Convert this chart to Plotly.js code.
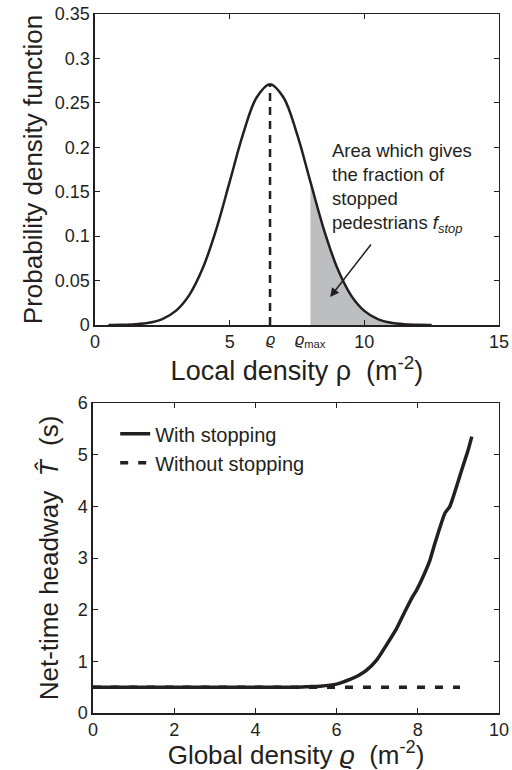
<!DOCTYPE html>
<html>
<head>
<meta charset="utf-8">
<script src="https://cdn.plot.ly/plotly-3.0.1.min.js"></script>
<style>html,body{margin:0;padding:0;background:#fff}#chart{width:512px;height:770px}</style>
</head>
<body>
<div id="chart"></div>
<script>
// Top panel: probability density of local density
const localDensity = [0.5,1.0,1.5,2.0,2.5,3.0,3.5,4.0,4.5,5.0,5.5,6.0,6.5,7.0,7.5,8.0,8.5,9.0,9.5,10.0,10.5,11.0,11.5,12.0,12.5];
const pdfValues = [0.0001,0.0002,0.0008,0.0025,0.0067,0.0159,0.0337,0.0638,0.1074,0.161,0.215,0.256,0.271,0.256,0.215,0.161,0.1074,0.0638,0.0337,0.0159,0.0067,0.0025,0.0008,0.0002,0.0001];
const meanDensity = 6.5;
const maxDensity = 8;
const peakValue = 0.271;
const topXTicks = [0,5,10,15];
const topYTicks = [0,0.05,0.1,0.15,0.2,0.25,0.3,0.35];
const topYTickText = ['0','0.05','0.1','0.15','0.2','0.25','0.3','0.35'];

// Bottom panel: net-time headway
const globalDensity = [0,1,2,3,4,5,5.3,5.6,6.0,6.33,6.55,6.74,6.99,7.23,7.48,7.68,7.85,7.97,8.09,8.30,8.42,8.67,8.79,9.08,9.24,9.33];
const headwayWithStop = [0.5,0.5,0.5,0.5,0.5,0.5,0.51,0.52,0.56,0.65,0.73,0.83,1.03,1.32,1.64,1.96,2.22,2.38,2.57,2.96,3.28,3.87,4.0,4.70,5.09,5.35];
const globalDensityNoStop = [0,9.04];
const headwayNoStop = [0.5,0.5];
const botXTicks = [0,2,4,6,8,10];
const botYTicks = [0,1,2,3,4,5,6];

const ink = '#231f20';
const font = 'Liberation Sans, Arial, sans-serif';

const shadeX = localDensity.filter(x => x >= maxDensity);
const shadeY = pdfValues.filter((v, i) => localDensity[i] >= maxDensity);

const traces = [
  {x: shadeX, y: shadeY, xaxis:'x', yaxis:'y', type:'scatter', mode:'lines',
   line:{width:0, shape:'spline'}, fill:'tozeroy', fillcolor:'#bcbec0', showlegend:false, hoverinfo:'skip'},
  {x: [meanDensity, meanDensity], y: [0, peakValue], xaxis:'x', yaxis:'y', type:'scatter', mode:'lines',
   line:{color:ink, width:2.5, dash:'8px,6px'}, showlegend:false},
  {x: localDensity, y: pdfValues, xaxis:'x', yaxis:'y', type:'scatter', mode:'lines',
   line:{color:ink, width:2.5, shape:'spline'}, showlegend:false},
  {x: globalDensity, y: headwayWithStop, xaxis:'x2', yaxis:'y2', type:'scatter', mode:'lines',
   name:'With stopping', line:{color:ink, width:3.5, shape:'spline', smoothing:0.5}},
  {x: globalDensityNoStop, y: headwayNoStop, xaxis:'x2', yaxis:'y2', type:'scatter', mode:'lines',
   name:'Without stopping', line:{color:ink, width:3.5, dash:'8px,10px'}}
];

const axisCommon = {
  showline:true, linecolor:ink, linewidth:1.5, mirror:'ticks', ticks:'inside', ticklen:5,
  tickcolor:ink, tickwidth:1, showgrid:false, zeroline:false,
  tickfont:{family:font, size:18, color:ink}
};

const layout = {
  width:512, height:770,
  margin:{l:0, r:0, t:0, b:0},
  paper_bgcolor:'#fff', plot_bgcolor:'#fff',
  font:{family:font, color:ink},
  showlegend:true,
  legend:{x:0.225, y:0.462, xanchor:'left', yanchor:'top', bgcolor:'rgba(0,0,0,0)',
          font:{family:font, size:20, color:ink}, tracegroupgap:0},
  xaxis: Object.assign({}, axisCommon, {domain:[0.1855,0.9746], range:[0,15], tickvals:topXTicks, anchor:'y',
    title:{text:'Local density ρ  (m<sup>-2</sup>)', font:{family:font, size:27, color:ink}, standoff:4}}),
  yaxis: Object.assign({}, axisCommon, {domain:[0.5779,0.9818], range:[0,0.35], tickvals:topYTicks, ticktext:topYTickText, anchor:'x',
    title:{text:'Probability density function', font:{family:font, size:26, color:ink}, standoff:4}}),
  xaxis2: Object.assign({}, axisCommon, {domain:[0.1816,0.9746], range:[0,10], tickvals:botXTicks, anchor:'y2',
    title:{text:'Global density <i>ϱ</i>  (m<sup>-2</sup>)', font:{family:font, size:26, color:ink}, standoff:5}}),
  yaxis2: Object.assign({}, axisCommon, {domain:[0.0740,0.4766], range:[0,6], tickvals:botYTicks, anchor:'x2',
    title:{text:'Net-time headway  <i>T̂</i>  (s)', font:{family:font, size:26, color:ink}, standoff:12}}),
  annotations:[
    {xref:'x', yref:'paper', x:meanDensity, y:0.5779, yshift:-14, text:'<i>ϱ</i>', showarrow:false,
     font:{family:font, size:16, color:ink}, xanchor:'center', yanchor:'middle'},
    {xref:'x', yref:'paper', x:maxDensity, y:0.5779, yshift:-15, text:'<i>ϱ</i><sub>max</sub>', showarrow:false,
     font:{family:font, size:16, color:ink}, xanchor:'center', yanchor:'middle'},
    {xref:'x', yref:'y', x:8.73, y:0.210, xanchor:'left', yanchor:'top', align:'left', showarrow:false,
     text:'Area which gives<br>the fraction of<br>stopped<br>pedestrians <i>f</i><sub><i>stop</i></sub>',
     font:{family:font, size:18.5, color:ink}},
    {xref:'x', yref:'y', axref:'x', ayref:'y', x:8.73, y:0.0315, ax:10.29, ay:0.0923,
     showarrow:true, arrowhead:2, arrowsize:1.2, arrowwidth:1.5, arrowcolor:ink, text:''}
  ]
};

Plotly.newPlot('chart', traces, layout, {displayModeBar:false, staticPlot:true});
</script>
</body>
</html>
